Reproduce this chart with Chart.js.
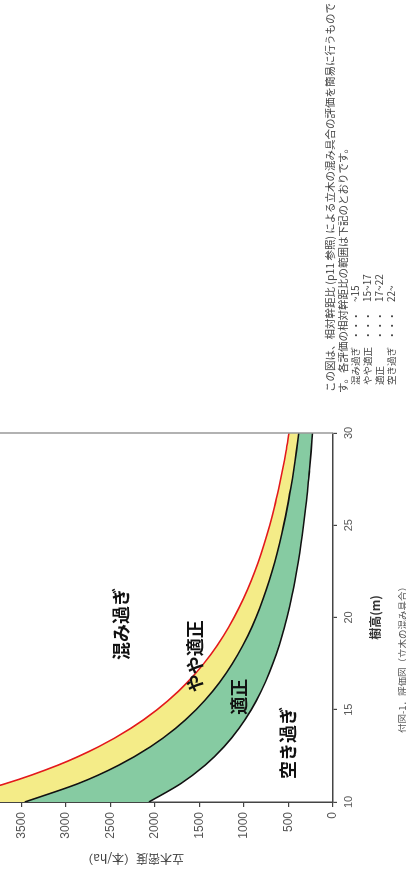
<!DOCTYPE html>
<html>
<head>
<meta charset="utf-8">
<script src="https://cdn.jsdelivr.net/npm/chart.js@4.4.1/dist/chart.umd.min.js"></script>
<style>
  html, body { margin: 0; padding: 0; background: #fff; overflow: hidden; }
  body { width: 406px; height: 876px; position: relative; }
  /* the whole figure is laid out flat, then turned a quarter left */
  #rot {
    position: absolute; left: 0; top: 0;
    width: 876px; height: 486px;
    transform-origin: 0 0;
    transform: translate(-80px, 876px) rotate(-90deg);
    font-family: "Noto Sans CJK JP", "Noto Sans", sans-serif;
  }
  #rot canvas { position: absolute; left: 0; top: 0; }
  .t { position: absolute; white-space: nowrap; color: #444; line-height: 12px; }
  .note { font-size: 10.5px; }
  .row { font-size: 9.5px; }
  .val { font-size: 10px; }
  .cap { font-size: 9.5px; color: #555; }
</style>
</head>
<body>
<div id="rot">
  <canvas id="chart" width="876" height="486"></canvas>
  <div class="t note" style="left:484px; top:404px">この図は、相対幹距比 (p11 参照) による立木の混み具合の評価を簡易に行うもので</div>
  <div class="t note" style="left:483px; top:417px">す。各評価の相対幹距比の範囲は下記のとおりです。</div>
  <div class="t row" style="left:491px; top:429px">混み過ぎ</div>
  <div class="t row" style="left:536px; top:429px">・・・</div>
  <div class="t val" style="left:574px; top:429px">~15</div>
  <div class="t row" style="left:491px; top:441px">やや適正</div>
  <div class="t row" style="left:536px; top:441px">・・・</div>
  <div class="t val" style="left:574px; top:441px">15~17</div>
  <div class="t row" style="left:491px; top:453px">適正</div>
  <div class="t row" style="left:536px; top:453px">・・・</div>
  <div class="t val" style="left:574px; top:453px">17~22</div>
  <div class="t row" style="left:491px; top:465px">空き過ぎ</div>
  <div class="t row" style="left:536px; top:465px">・・・</div>
  <div class="t val" style="left:574px; top:465px">22~</div>
  <div class="t cap" style="left:143px; top:476px">付図-1．評価図（立木の混み具合）</div>
</div>
<script>
// ---------- Data ----------
const heights = [10, 11, 12, 13, 14, 15, 16, 17, 18, 19, 20, 21, 22, 23, 24, 25, 26, 27, 28, 29, 30]; // 樹高 (m)
// 立木密度 (本/ha) on each boundary curve
const densLine15 = [4444, 3673, 3086, 2630, 2268, 1975, 1736, 1538, 1372, 1231, 1111, 1008, 918, 840, 772, 711, 657, 610, 567, 528, 494]; // red: 混み過ぎ | やや適正
const densLine17 = [3460, 2860, 2403, 2047, 1765, 1538, 1352, 1197, 1068, 958, 865, 785, 715, 654, 601, 554, 512, 475, 441, 411, 384];    // やや適正 | 適正
const densLine22 = [2066, 1708, 1435, 1223, 1054, 918, 807, 715, 638, 572, 517, 468, 427, 391, 359, 331, 306, 283, 264, 246, 230];        // 適正 | 空き過ぎ
const xTicks = [10, 15, 20, 25, 30];
const yTicks = [0, 500, 1000, 1500, 2000, 2500, 3000, 3500, 4000, 4500];

// zone names, anchored in data units
const zoneLabels = [
  { text: "混み過ぎ", x: 19.65, y: 2380 },
  { text: "やや適正", x: 17.9, y: 1550 },
  { text: "適正", x: 15.7, y: 1052 },
  { text: "空き過ぎ", x: 13.2, y: 509 }
];

const pts = arr => arr.map((d, i) => ({ x: heights[i], y: d }));

// ---------- Plugins ----------
const zonePlugin = {
  id: "zones",
  afterDraw(chart) {
    const { ctx, chartArea, scales } = chart;
    ctx.save();
    // right frame line at 30 m
    ctx.strokeStyle = "#999";
    ctx.lineWidth = 1.5;
    ctx.beginPath();
    ctx.moveTo(chartArea.right, chartArea.top);
    ctx.lineTo(chartArea.right, chartArea.bottom);
    ctx.stroke();
    ctx.font = 'bold 18px "Noto Sans CJK JP"';
    ctx.fillStyle = "#111";
    ctx.textAlign = "center";
    ctx.textBaseline = "middle";
    zoneLabels.forEach(l => {
      ctx.fillText(l.text, scales.x.getPixelForValue(l.x), scales.y.getPixelForValue(l.y));
    });
    ctx.restore();
  }
};

// ---------- Chart ----------
const line = (data, color, fill, bg) => ({
  data: pts(data),
  borderColor: color,
  borderWidth: 1.6,
  pointRadius: 0,
  cubicInterpolationMode: "monotone",
  fill: fill,
  backgroundColor: bg
});

new Chart(document.getElementById("chart").getContext("2d"), {
  type: "line",
  data: {
    datasets: [
      line(densLine15, "#e3191c", "+1", "#f4ec88"),
      line(densLine17, "#111", "+1", "#86cba2"),
      line(densLine22, "#111", false, "transparent")
    ]
  },
  options: {
    responsive: false,
    animation: false,
    events: [],
    layout: { padding: { left: 0, right: 433, top: 7, bottom: 0 } },
    plugins: {
      legend: { display: false },
      tooltip: { enabled: false },
      filler: { drawTime: "beforeDatasetsDraw" }
    },
    scales: {
      x: {
        type: "linear",
        min: 10, max: 30,
        afterBuildTicks: s => { s.ticks = xTicks.map(v => ({ value: v })); },
        afterFit: s => { s.height = 73; },
        border: { display: true, color: "#444", width: 1.5 },
        grid: { drawOnChartArea: false, drawTicks: true, tickLength: 4, color: "#444", lineWidth: 1.2 },
        ticks: { padding: 5, color: "#555", font: { family: "Liberation Sans", size: 11 }, maxRotation: 0,
                 callback: v => String(v) },
        title: {
          display: true, text: "樹高(m)", color: "#333",
          font: { family: "Noto Sans CJK JP", size: 12, weight: "bold" },
          padding: { top: 0, bottom: 23 }
        }
      },
      y: {
        min: 0, max: 4500,
        afterBuildTicks: s => { s.ticks = yTicks.map(v => ({ value: v })); },
        afterFit: s => { s.width = 74; },
        border: { display: true, color: "#444", width: 1.5 },
        grid: { drawOnChartArea: false, drawTicks: true, tickLength: 5, color: "#444", lineWidth: 1.2 },
        ticks: { padding: 5, color: "#555", font: { family: "Liberation Sans", size: 12 },
                 callback: v => String(v) },
        title: {
          display: true, text: "立木密度（本/ha）", color: "#444",
          font: { family: "Noto Sans CJK JP", size: 12 },
          padding: { top: 10, bottom: 0 }
        }
      }
    }
  },
  plugins: [zonePlugin]
});
</script>
</body>
</html>
